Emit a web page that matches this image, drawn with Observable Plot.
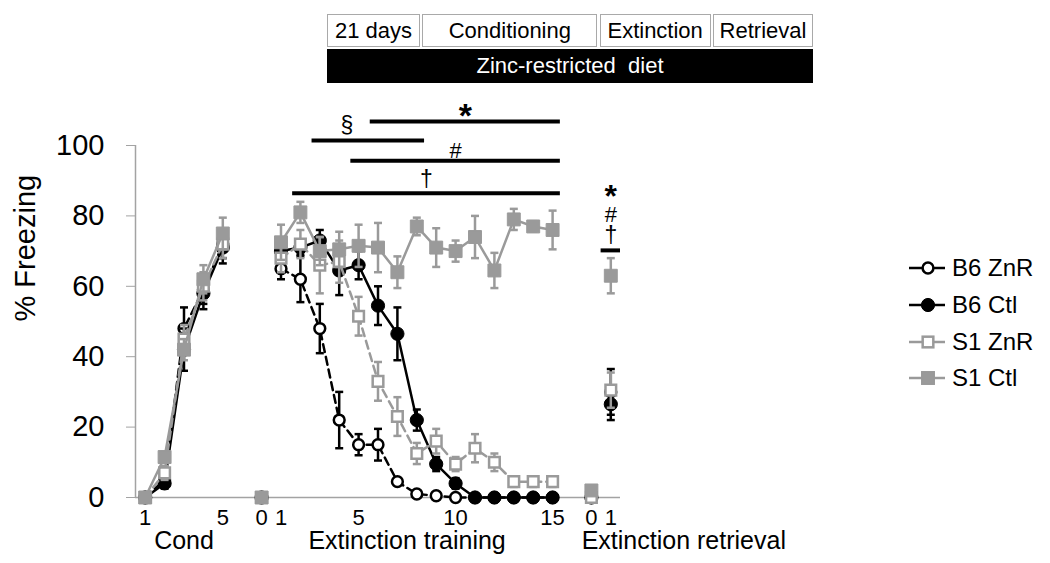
<!DOCTYPE html>
<html>
<head>
<meta charset="utf-8">
<script src="https://cdn.jsdelivr.net/npm/d3@7"></script>
<script src="https://cdn.jsdelivr.net/npm/@observablehq/plot@0.6"></script>
<style>
  body { margin: 0; background: #fff; font-family: "Liberation Sans", Arial, sans-serif; }
  #wrap { position: relative; width: 1050px; height: 563px; overflow: hidden; background: #fff; }
  #chart { position: absolute; left: 0; top: 0; }
  #schema { position: absolute; left: 327px; top: 14px; width: 486px; }
  #schema .boxes { display: flex; height: 33px; justify-content: space-between; }
  #schema .box { box-sizing: border-box; border: 1.5px solid #a9a9a9; display: flex; align-items: center; justify-content: center; font-size: 22px; color: #000; }
  #schema .diet { margin-top: 2px; height: 34px; background: #000; color: #fff; display: flex; align-items: center; justify-content: center; font-size: 22px; }
  #legend { position: absolute; left: 909px; top: 250px; }
  #legend .row { display: flex; align-items: center; height: 36.7px; font-size: 24px; color: #000; }
  #legend svg { margin-right: 5px; }
</style>
</head>
<body>
<div id="wrap">
  <div id="chart"></div>
  <div id="schema"></div>
  <div id="legend"></div>
</div>
<script>
// ---------------- data ----------------
const series = ["B6 ZnR", "B6 Ctl", "S1 ZnR", "S1 Ctl"];

const condTrials = [1, 2, 3, 4, 5];
const extTrials = [0, 1, 2, 3, 4, 5, 6, 7, 8, 9, 10, 11, 12, 13, 14, 15];
const retTrials = [0, 1];

const condB6ZnR = [0, 5, 48, 59, 72];
const condB6Ctl = [0, 4, 42, 58, 71];
const condS1ZnR = [0, 7, 45, 60, 72];
const condS1Ctl = [0, 11.5, 42, 62, 75];
const condB6ZnRSem = [0, 1.5, 6, 4, 4];
const condB6CtlSem = [0, 1.5, 6, 4.5, 4.5];
const condS1ZnRSem = [0, 2, 4, 4, 4];
const condS1CtlSem = [0, 1.5, 3, 4, 4.5];

const extB6ZnR = [0, 65, 62, 48, 22, 15, 15, 4.5, 1, 0.5, 0, 0, 0, 0, 0, 0];
const extB6Ctl = [0, 70, 71, 73, 64.5, 66, 54.5, 46.5, 22, 9.5, 4, 0, 0, 0, 0, 0];
const extS1ZnR = [0, 68, 72, 66, 67, 51.5, 33, 23, 12.5, 16, 9.5, 14, 10, 4.5, 4.5, 4.5];
const extS1Ctl = [0, 72.5, 81, 70, 70.5, 71.5, 71, 64, 77, 71, 70, 74, 64.5, 79, 77, 76];
const extB6ZnRSem = [0, 3, 6.5, 7, 8, 3, 4.5, 1, 0.5, 0.3, 0, 0, 0, 0, 0, 0];
const extB6CtlSem = [0, 2, 2, 3, 7, 4, 5.5, 7.5, 3, 2, 1.5, 0, 0, 0, 0, 0];
const extS1ZnRSem = [0, 4, 4, 8, 6, 5.5, 5.5, 5.5, 3, 3.5, 2, 4, 2.5, 1.5, 1.5, 1.5];
const extS1CtlSem = [0, 5, 3, 4, 5, 6, 7, 4.5, 2.5, 5.5, 3, 6, 5, 3, 1.5, 5.5];

const retB6ZnR = [0, 30];
const retB6Ctl = [0, 26.5];
const retS1ZnR = [0, 30.5];
const retS1Ctl = [2, 63];
const retB6ZnRSem = [0, 6.5];
const retB6CtlSem = [0, 4.5];
const retS1ZnRSem = [0, 5];
const retS1CtlSem = [0.5, 5];

const phaseNames = ["Cond", "Extinction training", "Extinction retrieval"];
const condTickTrials = [1, 5];
const extTickTrials = [0, 1, 5, 10, 15];
const retTickTrials = [0, 1];

// significance bars over extinction training
const sigSymbols = ["*", "§", "#", "†"];
const sigFrom = [6, 3, 5, 2];
const sigTo = [15, 8, 15, 15];
const sigLevel = [106.8, 101.4, 95.7, 86.4];
const sigLabelTrial = [10.5, 4.4, 10, 8.5];
// significance at retrieval
const retSigSymbols = ["*", "#", "†"];
const retSigLevel = 70.2;
const retSigTrial = 1;

const schemaBoxes = ["21 days", "Conditioning", "Extinction", "Retrieval"];
const schemaDiet = "Zinc-restricted  diet";

// ---------------- layout / style ----------------
const offset = {cond: -1, ext: 6, ret: 23};
const GRAY = "#9a9a9a";
const AXIS = "#a3a3a3";
const style = {
  "B6 ZnR": {stroke: "#000", fill: "#fff", symbol: "circle", r: 5.4, dash: "8,5", mw: 2.5},
  "B6 Ctl": {stroke: "#000", fill: "#000", symbol: "circle", r: 6.6, dash: null, mw: 1},
  "S1 ZnR": {stroke: GRAY, fill: "#fff", symbol: "square", r: 6.0, dash: "8,5", mw: 2.5},
  "S1 Ctl": {stroke: GRAY, fill: GRAY, symbol: "square", r: 7.3, dash: null, mw: 1}
};

const table = {
  "B6 ZnR": [[condB6ZnR, condB6ZnRSem], [extB6ZnR, extB6ZnRSem], [retB6ZnR, retB6ZnRSem]],
  "B6 Ctl": [[condB6Ctl, condB6CtlSem], [extB6Ctl, extB6CtlSem], [retB6Ctl, retB6CtlSem]],
  "S1 ZnR": [[condS1ZnR, condS1ZnRSem], [extS1ZnR, extS1ZnRSem], [retS1ZnR, retS1ZnRSem]],
  "S1 Ctl": [[condS1Ctl, condS1CtlSem], [extS1Ctl, extS1CtlSem], [retS1Ctl, retS1CtlSem]]
};
const phases = [["cond", condTrials], ["ext", extTrials], ["ret", retTrials]];

const data = [];
for (const s of series) {
  phases.forEach(([ph, trials], k) => {
    const [vals, sems] = table[s][k];
    trials.forEach((t, i) => data.push({series: s, phase: ph, trial: t, slot: offset[ph] + t, value: vals[i], sem: sems[i]}));
  });
}

const tickSlots = [
  ...condTickTrials.map(t => [offset.cond + t, t]),
  ...extTickTrials.map(t => [offset.ext + t, t]),
  ...retTickTrials.map(t => [offset.ret + t, t])
];
const tickLabel = new Map(tickSlots);

const xDomain = [-0.5, 24.5];
const yDomain = [0, 100];

const capSymbol = {draw(ctx, size) { const w = Math.sqrt(size / Math.PI); ctx.moveTo(-w, 0); ctx.lineTo(w, 0); }};

const marks = [];
marks.push(Plot.ruleY([yDomain[0]], {stroke: AXIS, strokeWidth: 1.5}));
marks.push(Plot.ruleX([{x: xDomain[0], y1: yDomain[0], y2: yDomain[1]}], {x: "x", y1: "y1", y2: "y2", stroke: AXIS, strokeWidth: 1.5}));
marks.push(Plot.axisY({ticks: [0, 20, 40, 60, 80, 100], tickSize: 9, tickPadding: 22, fontSize: 29, stroke: AXIS, fill: "#000"}));
marks.push(Plot.axisX({ticks: tickSlots.map(d => d[0]), tickFormat: d => tickLabel.get(d), tickSize: 0, tickPadding: 12, fontSize: 22, fill: "#000"}));

// y label
marks.push(Plot.text(["% Freezing"], {frameAnchor: "left", rotate: -90, dx: -110, fontSize: 29, fill: "#000"}));

// phase labels below x axis
const phaseLabelRows = [
  {text: phaseNames[0], x: d3.mean(condTrials, t => offset.cond + t), anchor: "middle"},
  {text: phaseNames[1], x: d3.mean(extTrials, t => offset.ext + t), anchor: "middle"},
  {text: phaseNames[2], x: offset.ret + retTrials[0] - 0.5, anchor: "start"}
];
for (const p of phaseLabelRows) {
  marks.push(Plot.text([p], {x: "x", y: () => 0, text: "text", textAnchor: p.anchor, lineAnchor: "bottom", dy: 51, fontSize: 25, fill: "#000"}));
}

for (const s of series) {
  const st = style[s];
  const d = data.filter(r => r.series === s);
  const lineData = d.filter(r => r.phase === "cond" || (r.phase === "ext" && r.trial >= 1));
  marks.push(Plot.line(lineData, {x: "slot", y: "value", z: "phase", stroke: st.stroke, strokeWidth: 2.5, strokeDasharray: st.dash || undefined}));
  const e = d.filter(r => r.sem > 0);
  marks.push(Plot.ruleX(e, {x: "slot", y1: r => r.value - r.sem, y2: r => r.value + r.sem, stroke: st.stroke, strokeWidth: 2.5}));
  const caps = e.flatMap(r => [{slot: r.slot, y: r.value - r.sem}, {slot: r.slot, y: r.value + r.sem}]);
  marks.push(Plot.dot(caps, {x: "slot", y: "y", symbol: capSymbol, r: 4, stroke: st.stroke, strokeWidth: 2.5, fill: "none"}));
  marks.push(Plot.dot(d, {x: "slot", y: "value", symbol: st.symbol, r: st.r, fill: st.fill, stroke: st.stroke, strokeWidth: st.mw}));
}

// significance bars
const sigRows = sigSymbols.map((sym, i) => ({sym, x1: offset.ext + sigFrom[i] - 0.4, x2: offset.ext + sigTo[i] + 0.4, y: sigLevel[i], lx: offset.ext + sigLabelTrial[i]}));
marks.push(Plot.ruleY(sigRows, {y: "y", x1: "x1", x2: "x2", stroke: "#000", strokeWidth: 4}));
const symStyle = {
  "*": {fontSize: 34, fontWeight: "bold", dy: 5},
  "§": {fontSize: 23, fontWeight: "normal", dy: -8},
  "#": {fontSize: 22, fontWeight: "normal", dy: -3},
  "†": {fontSize: 23, fontWeight: "normal", dy: -6}
};
for (const r of sigRows) {
  const ss = symStyle[r.sym];
  marks.push(Plot.text([r], {x: "lx", y: "y", text: "sym", lineAnchor: "bottom", dy: ss.dy, fontSize: ss.fontSize, fontWeight: ss.fontWeight, fill: "#000"}));
}
// retrieval significance
const retX = offset.ret + retSigTrial;
marks.push(Plot.ruleY([{y: retSigLevel, x1: retX - 0.5, x2: retX + 0.5}], {y: "y", x1: "x1", x2: "x2", stroke: "#000", strokeWidth: 4}));
const retStack = {"*": -43, "#": -28, "†": -7};
for (const sym of retSigSymbols) {
  const ss = symStyle[sym];
  marks.push(Plot.text([{sym, x: retX, y: retSigLevel}], {x: "x", y: "y", text: "sym", lineAnchor: "bottom", dy: retStack[sym], fontSize: ss.fontSize - (sym === "*" ? 2 : 0), fontWeight: ss.fontWeight, fill: "#000"}));
}

const chart = Plot.plot({
  width: 1050,
  height: 563,
  marginLeft: 135,
  marginRight: 430,
  marginTop: 145,
  marginBottom: 66,
  x: {type: "linear", domain: xDomain, axis: null},
  y: {type: "linear", domain: yDomain, axis: null},
  style: {fontFamily: "'Liberation Sans', Arial, sans-serif", background: "#fff", color: "#000"},
  marks
});
document.getElementById("chart").appendChild(chart);

// schematic
const widths = [93, 175, 111, 100];
const schema = document.getElementById("schema");
const boxes = document.createElement("div");
boxes.className = "boxes";
schemaBoxes.forEach((t, i) => {
  const b = document.createElement("div");
  b.className = "box";
  b.style.width = widths[i] + "px";
  b.textContent = t;
  boxes.appendChild(b);
});
schema.appendChild(boxes);
const diet = document.createElement("div");
diet.className = "diet";
diet.style.whiteSpace = "pre";
diet.textContent = schemaDiet;
schema.appendChild(diet);

// legend
const legend = document.getElementById("legend");
for (const s of series) {
  const st = style[s];
  const row = document.createElement("div");
  row.className = "row";
  const ns = "http://www.w3.org/2000/svg";
  const svg = document.createElementNS(ns, "svg");
  svg.setAttribute("width", 38); svg.setAttribute("height", 20);
  const ln = document.createElementNS(ns, "line");
  ln.setAttribute("x1", 0); ln.setAttribute("x2", 36); ln.setAttribute("y1", 10); ln.setAttribute("y2", 10);
  ln.setAttribute("stroke", st.stroke); ln.setAttribute("stroke-width", 2.5);
  svg.appendChild(ln);
  let m;
  if (st.symbol === "circle") {
    m = document.createElementNS(ns, "circle");
    m.setAttribute("cx", 19); m.setAttribute("cy", 10); m.setAttribute("r", st.r);
  } else {
    const side = st.r * Math.sqrt(Math.PI);
    m = document.createElementNS(ns, "rect");
    m.setAttribute("x", 19 - side / 2); m.setAttribute("y", 10 - side / 2);
    m.setAttribute("width", side); m.setAttribute("height", side);
  }
  m.setAttribute("fill", st.fill); m.setAttribute("stroke", st.stroke); m.setAttribute("stroke-width", st.mw);
  svg.appendChild(m);
  row.appendChild(svg);
  const tx = document.createElement("span");
  tx.textContent = s;
  row.appendChild(tx);
  legend.appendChild(row);
}
</script>
</body>
</html>
